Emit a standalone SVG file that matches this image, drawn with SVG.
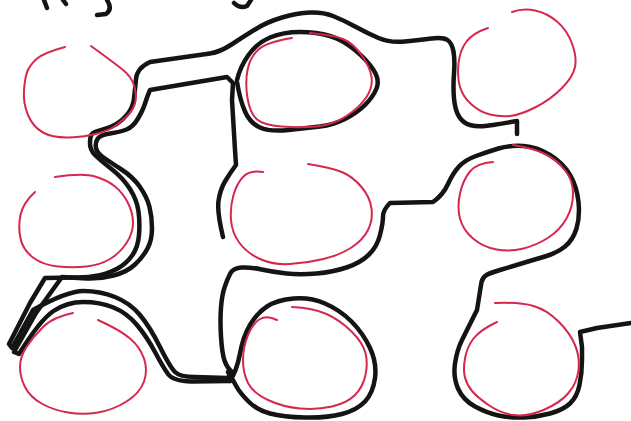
<svg xmlns="http://www.w3.org/2000/svg" width="631" height="421" viewBox="0 0 631 421">
<style>
.red{fill:none;stroke:#d6284f;stroke-width:2;stroke-linecap:round;stroke-linejoin:round}
.ink{fill:none;stroke:#141414;stroke-width:4.5;stroke-linecap:round;stroke-linejoin:round}
</style>
<rect width="631" height="421" fill="#ffffff"/>
<g id="scribble">
<path class="ink" d="M44,0 L47,8 M63,0 L66,4 M107,0 Q113,9 106,14 L97,15 M234,3 Q240,9 247,6 L251,0"/>
</g>
<g id="connectors">
<path class="ink" d="M517,134 L517,121 Q493,125 485,126 Q477,127 470,125 Q463,123 459,116.5 Q455,110 454,98.5 Q453,87 454,73.5 Q455,60 453.5,51.5 Q452,43 447.5,40 Q443,37 431.5,38.5 Q420,40 405,41.5 Q390,43 378.5,38 Q367,33 355,26.5 Q343,20 333,16 Q323,12 310,12.5 Q297,13 282,17.5 Q267,22 255,29.5 Q243,37 231.5,44.5 Q220,52 210,53.5 L150,62 Q137,68 136,79 Q135,90 134,98.5 Q133,107 128,113.5 Q123,120 116.5,124 Q110,128 101.5,130 Q93,132 91.5,134.5 Q90,137 90,143.5 Q90,150 95,155 Q100,160 111.5,169 Q123,178 130,189 Q137,200 138.5,211.5 Q140,223 139,235 Q138,247 132.5,255 Q127,263 118.5,268 Q110,273 98.5,275.5 Q87,278 73.5,277.5 L45,278 L30,303 L9,344 L12,348 L33,310 Q67,291 83.5,291 Q100,291 115,297 Q130,303 140,315 Q150,327 160,347 Q170,367 175,372 Q180,377 195,377 L227,378 L233,373"/>
<path class="ink" d="M223,237 Q217,212 218.5,201 Q220,190 225,181.5 Q230,173 236,165 L235,150 L232,100 L233,83 L227,77 L150,90 Q147,97 145,103.5 Q143,110 138,118.5 Q133,127 126.5,129.5 Q120,132 110,133.5 Q100,135 97.5,139 Q95,143 96,148 Q97,153 103.5,157.5 Q110,162 121.5,169.5 Q133,177 140,187 Q147,197 149.5,207 Q152,217 152,228.5 Q152,240 147.5,248.5 Q143,257 135,264.5 Q127,272 113.5,275.5 Q100,279 86.5,278.5 L62,277 L36,313 L14,352 L19,354 Q40,320 53.5,311 Q67,302 83.5,302 Q100,302 113.5,307.5 Q127,313 137,325 Q147,337 155,352 Q163,367 168,374 Q173,381 191.5,381.5 L230,381"/>
<path class="ink" d="M230,381 Q237,370 240,353.5 Q243,337 250,325 Q257,313 267,306.5 Q277,300 293.5,298.5 Q310,297 325,303.5 Q340,310 351.5,321.5 Q363,333 370,348 Q377,363 375,378 Q373,393 365,401.5 Q357,410 342,414 Q327,418 305,417.5 Q283,417 270,413.5 Q257,410 248.5,401.5 Q240,393 236.5,386.5 Q233,380 228,372"/>
<path class="ink" d="M237,80 Q240,67 248.5,55 Q257,43 270,37.5 Q283,32 300,32 Q317,32 330,36 Q343,40 355,50 Q367,60 373.5,70 Q380,80 376.5,88.5 Q373,97 365,105 Q357,113 345,119 Q333,125 320,126.5 Q307,128 288.5,130 Q270,132 260,127.5 Q250,123 245,111.5 Q240,100 237,82"/>
<path class="ink" d="M233,373 Q227,368 224.5,360.5 Q222,353 221,336.5 Q220,320 221,307.5 Q222,295 224.5,287.5 Q227,280 230,274 Q233,268 241.5,267.5 Q250,267 261.5,269.5 Q273,272 286.5,273.5 Q300,275 316.5,273.5 Q333,272 346.5,267.5 Q360,263 368.5,255 Q377,247 380,235 Q383,223 383,216.5 Q383,210 390,203 L433,202 Q443,195 448,184 Q453,173 459,166.5 Q465,160 476,156 Q487,152 498.5,148.5 Q510,145 523.5,146 Q537,147 550,155 Q563,163 570,175 Q577,187 578.5,202 Q580,217 576.5,228.5 Q573,240 565,246.5 Q557,253 545,256.5 Q533,260 521.5,263.5 Q510,267 500,270 Q490,273 486.5,275 Q483,277 481.5,282 L477,310 Q467,330 462,340 Q457,350 455,363.5 Q453,377 458,388.5 Q463,400 475,406.5 Q487,413 498.5,415.5 Q510,418 523.5,417.5 Q537,417 550,413.5 Q563,410 570,403.5 Q577,397 579.5,385 Q582,373 582,360 L582,347 L580,332 L597,328 L631,323"/>
</g>
<g id="n1"><path class="red" d="M65,47 Q43,53 36.5,59 Q30,65 27.5,71 Q25,77 24,90 Q23,103 28,115 Q33,127 43,132.5 Q53,138 69,137.5 Q85,137 97.5,133.5 Q110,130 116.5,125 Q123,120 128,115 Q133,110 135,103.5 Q137,97 134.5,87 Q132,77 122.5,69.5 Q113,62 91,46"/></g>
<g id="n2"><path class="red" d="M292,38 Q267,42 258.5,49.5 Q250,57 247.5,70 Q245,83 247.5,98 Q250,113 256.5,119 Q263,125 281.5,126.5 Q300,128 316.5,126.5 Q333,125 346.5,116 Q360,107 366.5,97 Q373,87 371.5,77 Q370,67 361.5,55 Q353,43 343,39 Q333,35 310,33"/></g>
<g id="n3"><path class="red" d="M488,28 Q473,33 466.5,41.5 Q460,50 458.5,63.5 Q457,77 460,87 Q463,97 471.5,104.5 Q480,112 490,114.5 Q500,117 510,116 Q520,115 535,107.5 Q550,100 561.5,88.5 Q573,77 575,67 Q577,57 572,43.5 Q567,30 557,21.5 Q547,13 535,10.5 Q523,8 512,12"/></g>
<g id="n4"><path class="red" d="M35,192 Q23,203 20.5,215 Q18,227 20.5,238.5 Q23,250 33,257.5 Q43,265 58,266.5 Q73,268 86.5,266.5 Q100,265 110,259 Q120,253 126.5,243 Q133,233 133,223 Q133,213 128,203 Q123,193 115,186.5 Q107,180 95,176.5 Q83,173 55,177"/></g>
<g id="n5"><path class="red" d="M263,172 Q250,170 243.5,176.5 Q237,183 233.5,195 Q230,207 231,220 Q232,233 239.5,243 Q247,253 260,259 Q273,265 290,264 Q307,263 323.5,259 Q340,255 351.5,247.5 Q363,240 368,230 Q373,220 371.5,208.5 Q370,197 361.5,187 Q353,177 343,172.5 Q333,168 308,164"/></g>
<g id="n6"><path class="red" d="M493,162 Q477,163 470,171.5 Q463,180 460,193.5 Q457,207 460,218.5 Q463,230 473,238.5 Q483,247 496.5,249.5 Q510,252 523.5,248.5 Q537,245 548.5,237.5 Q560,230 566.5,218.5 Q573,207 573,193.5 Q573,180 565,170 Q557,160 545,154 Q533,148 513,145"/></g>
<g id="n7"><path class="red" d="M98,320 Q120,330 130,338.5 Q140,347 144,358.5 Q148,370 144,381.5 Q140,393 126.5,401.5 Q113,410 98,412.5 Q83,415 68,412.5 Q53,410 41.5,403.5 Q30,397 25,387 Q20,377 20,367 Q20,357 26.5,347 Q33,337 43,327 Q53,317 73,313"/></g>
<g id="n8"><path class="red" d="M277,320 Q267,315 260,319 Q253,323 248,335 Q243,347 243,360 Q243,373 248,383 Q253,393 268,400 Q283,407 300,408.5 Q317,410 332,406.5 Q347,403 355,395 Q363,387 365.5,375 Q368,363 365.5,353 Q363,343 351.5,331.5 Q340,320 326.5,314 Q313,308 292,307"/></g>
<g id="n9"><path class="red" d="M497,322 Q480,330 473.5,338.5 Q467,347 465,358.5 Q463,370 465,377.5 Q467,385 472,391 Q477,397 488.5,405 Q500,413 513.5,415 Q527,417 543.5,410 Q560,403 568.5,393 Q577,383 578.5,370 Q580,357 575,345 Q570,333 558.5,321.5 Q547,310 533.5,306 Q520,302 495,303"/></g>
</svg>
